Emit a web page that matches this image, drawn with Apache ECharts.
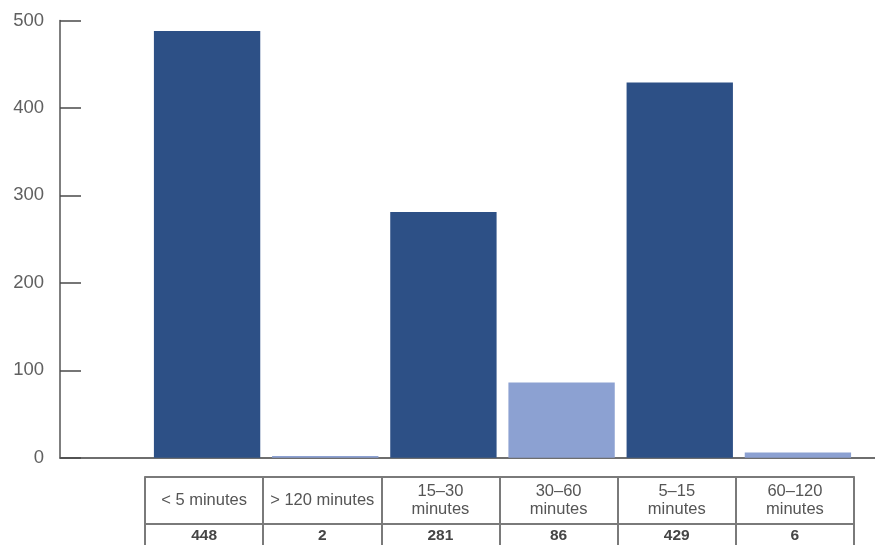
<!DOCTYPE html>
<html>
<head>
<meta charset="utf-8">
<script src="https://cdn.jsdelivr.net/npm/echarts@6/dist/echarts.min.js"></script>
<style>
html,body{margin:0;padding:0;background:#fff;}
#chart{width:875px;height:545px;}
</style>
</head>
<body>
<div id="chart"></div>
<script>
// Categories (table header row)
var categories = ['< 5 minutes', '> 120 minutes', '15–30\nminutes', '30–60\nminutes', '5–15\nminutes', '60–120\nminutes'];
// Bar heights
var barValues = [488, 2, 281, 86, 429, 6];
// Values printed in the table row (as shown)
var tableValues = ['448', '2', '281', '86', '429', '6'];
// Y tick settings
var yMin = 0, yMax = 500, yStep = 100;

var FONT = '"Liberation Sans", Arial, Helvetica, sans-serif';
var DARK = '#2d5086';
var LIGHT = '#8ca1d2';
var BORDER = '#7a7a7a';

var chart = echarts.init(document.getElementById('chart'), null, {renderer: 'canvas'});
var gridTop = 20.5, gridBottom = 545 - 457.7;

chart.setOption({
  animation: false,
  backgroundColor: '#ffffff',
  textStyle: {fontFamily: FONT},
  grid: [
    {left: 60, right: 0, top: gridTop, bottom: gridBottom, containLabel: false},
    {left: 145, right: 21, top: gridTop, bottom: gridBottom, containLabel: false},
    {left: 148, right: 18, top: gridTop, bottom: gridBottom, containLabel: false}
  ],
  xAxis: [
    { // baseline across the whole plot
      gridIndex: 0, type: 'value', min: 0, max: 1,
      axisLine: {show: true, onZero: false, lineStyle: {color: '#6e6e6e', width: 2}},
      axisTick: {show: false}, axisLabel: {show: false}, splitLine: {show: false}
    },
    { // category axis for bars
      gridIndex: 2, type: 'category', data: categories,
      axisLine: {show: false, onZero: false}, axisTick: {show: false}, axisLabel: {show: false}, splitLine: {show: false}
    },
    { // table header row
      gridIndex: 1, type: 'category', data: categories, position: 'bottom', offset: 19,
      axisLine: {show: true, onZero: false, lineStyle: {color: BORDER, width: 2}},
      axisTick: {show: true, interval: 0, inside: false, length: 72, lineStyle: {color: BORDER, width: 2}},
      axisLabel: {show: true, interval: 0, margin: 23.5, verticalAlign: 'middle', fontSize: 16.5, lineHeight: 18, color: '#555555', fontFamily: FONT}
    },
    { // table value row
      gridIndex: 1, type: 'category', data: tableValues, position: 'bottom', offset: 66.3,
      axisLine: {show: true, onZero: false, lineStyle: {color: BORDER, width: 2}},
      axisTick: {show: false},
      axisLabel: {show: true, interval: 0, margin: 12, verticalAlign: 'middle', fontSize: 15.5, fontWeight: 'bold', color: '#454545', fontFamily: FONT}
    }
  ],
  yAxis: [
    {
      gridIndex: 0, type: 'value', min: yMin, max: yMax, interval: yStep,
      axisLine: {show: true, onZero: false, lineStyle: {color: '#555555', width: 1.5}},
      axisTick: {show: true, inside: true, length: 21, lineStyle: {color: '#4a4a4a', width: 1.5}},
      axisLabel: {show: true, margin: 16, fontSize: 18.5, color: '#606060', fontFamily: FONT},
      splitLine: {show: false}
    },
    {
      gridIndex: 1, type: 'value', min: yMin, max: yMax, interval: yStep,
      axisLine: {show: false, onZero: false}, axisTick: {show: false}, axisLabel: {show: false}, splitLine: {show: false}
    },
    {
      gridIndex: 2, type: 'value', min: yMin, max: yMax, interval: yStep,
      axisLine: {show: false, onZero: false}, axisTick: {show: false}, axisLabel: {show: false}, splitLine: {show: false}
    }
  ],
  series: [
    {
      type: 'bar', xAxisIndex: 1, yAxisIndex: 2,
      data: barValues,
      barCategoryGap: '10%',
      itemStyle: {color: function (p) { return p.dataIndex % 2 === 0 ? DARK : LIGHT; }}
    }
  ]
});
</script>
</body>
</html>
